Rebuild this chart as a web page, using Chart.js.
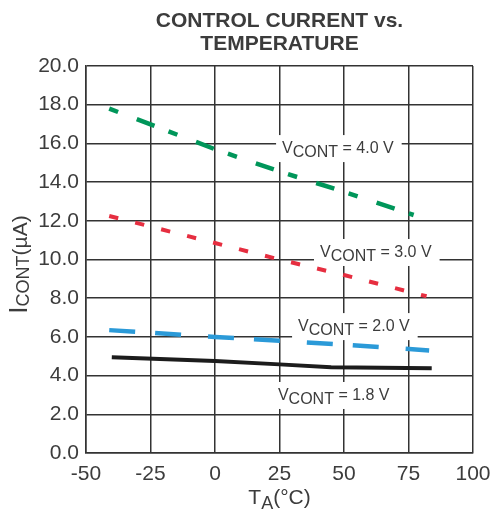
<!DOCTYPE html>
<html>
<head>
<meta charset="utf-8">
<script src="https://cdn.jsdelivr.net/npm/chart.js@4.4.0/dist/chart.umd.min.js"></script>
<style>
  body { margin: 0; background: #fff; }
  #chart { display: block; }
</style>
</head>
<body>
<canvas id="chart" width="493" height="511"></canvas>
<script>
// Temperature points (°C) and control current (µA) per control voltage
const temps40 = [-41, 0, 25, 50, 77];
const icont40 = [17.8, 15.7, 14.55, 13.5, 12.3];
const temps30 = [-41, 0, 25, 50, 82];
const icont30 = [12.25, 10.85, 10.0, 9.2, 8.1];
const temps20 = [-41, 0, 25, 50, 83];
const icont20 = [6.35, 6.0, 5.8, 5.6, 5.3];
const temps18 = [-40, 0, 25, 45, 84];
const icont18 = [4.95, 4.75, 4.58, 4.43, 4.38];

const seriesVolts = ["4.0", "3.0", "2.0", "1.8"];
// where each curve's label sits (left edge T, baseline I)
const labelT = [26, 40.7, 32.2, 24.4];
const labelI = [15.5, 10.13, 6.3, 2.74];

const xTicks = [-50, -25, 0, 25, 50, 75, 100];
const yMax = 20;
const yStep = 2;

const textColor = "#3c3c3c";
const gridColor = "#333333";
const FONT = "Arial, 'Liberation Sans', sans-serif";

function toPoints(xs, ys) {
  return xs.map((x, i) => ({ x: x, y: ys[i] }));
}

// Draws a run of text pieces: [text, size, dy]
function drawPieces(ctx, pieces, x, y) {
  let cx = x;
  pieces.forEach(([txt, size, dy, weight]) => {
    ctx.font = (weight || "normal") + " " + size + "px " + FONT;
    ctx.fillText(txt, cx, y + dy);
    cx += ctx.measureText(txt).width;
  });
  return cx - x;
}

function measurePieces(ctx, pieces) {
  let w = 0;
  pieces.forEach(([txt, size, dy, weight]) => {
    ctx.font = (weight || "normal") + " " + size + "px " + FONT;
    w += ctx.measureText(txt).width;
  });
  return w;
}

const labelsPlugin = {
  id: "curveLabels",
  beforeDatasetsDraw(chart) {
    const ctx = chart.ctx;
    const xs = chart.scales.x;
    const ys = chart.scales.y;
    ctx.save();
    ctx.textBaseline = "alphabetic";
    ctx.textAlign = "left";
    seriesVolts.forEach((v, i) => {
      const pieces = [["V", 16, 0], ["CONT", 16, 4], [" = " + v + " V", 16, 0]];
      const px = xs.getPixelForValue(labelT[i]);
      const py = ys.getPixelForValue(labelI[i]);
      const w = measurePieces(ctx, pieces);
      ctx.fillStyle = "#ffffff";
      ctx.fillRect(px - 6, py - 18, w + 14, 27);
      ctx.fillStyle = textColor;
      drawPieces(ctx, pieces, px, py);
    });
    ctx.restore();
  },
  afterDraw(chart) {
    const ctx = chart.ctx;
    const area = chart.chartArea;
    const midX = (area.left + area.right) / 2;
    const midY = (area.top + area.bottom) / 2;
    ctx.save();
    ctx.fillStyle = textColor;
    ctx.textBaseline = "alphabetic";

    // title
    ctx.textAlign = "center";
    ctx.font = "bold 21px " + FONT;
    ctx.fillText("CONTROL CURRENT vs.", midX, 27);
    ctx.fillText("TEMPERATURE", midX, 50);

    // x axis title
    ctx.textAlign = "left";
    const xt = [["T", 21, 0], ["A", 18, 5], ["(°C)", 21, 0]];
    drawPieces(ctx, xt, midX - measurePieces(ctx, xt) / 2, 504);

    // y axis title (rotated)
    const yt = [["I", 26, 0], ["CONT", 18, 2], ["(µA)", 21, 0]];
    ctx.translate(27, midY + 5);
    ctx.rotate(-Math.PI / 2);
    drawPieces(ctx, yt, -measurePieces(ctx, yt) / 2, 0);
    ctx.restore();
  }
};

new Chart(document.getElementById("chart"), {
  type: "line",
  data: {
    datasets: [
      {
        label: "VCONT = 4.0 V",
        data: toPoints(temps40, icont40),
        borderColor: "#00965a",
        borderWidth: 4.5,
        borderDash: [9.5, 20, 19, 15],
      },
      {
        label: "VCONT = 3.0 V",
        data: toPoints(temps30, icont30),
        borderColor: "#e62e40",
        borderWidth: 4,
        borderDash: [9.3, 17.5],
      },
      {
        label: "VCONT = 2.0 V",
        data: toPoints(temps20, icont20),
        borderColor: "#2b9ad8",
        borderWidth: 4.5,
        borderDash: [26, 20, 26, 27],
      },
      {
        label: "VCONT = 1.8 V",
        data: toPoints(temps18, icont18),
        borderColor: "#1c1c1c",
        borderWidth: 4,
      },
    ],
  },
  options: {
    responsive: false,
    animation: false,
    devicePixelRatio: 1,
    layout: { padding: { top: 66, right: 20, left: 0, bottom: 0 } },
    elements: {
      point: { radius: 0 },
      line: { tension: 0, borderCapStyle: "butt", fill: false },
    },
    plugins: {
      legend: { display: false },
      title: { display: false },
      tooltip: { enabled: false },
    },
    scales: {
      x: {
        type: "linear",
        min: xTicks[0],
        max: xTicks[xTicks.length - 1],
        afterFit: (scale) => {
          scale.height = 58;
          scale.paddingLeft = 0;
          scale.paddingRight = 0;
        },
        afterBuildTicks: (scale) => {
          scale.ticks = xTicks.map((v) => ({ value: v }));
        },
        ticks: {
          color: textColor,
          font: { family: FONT, size: 21 },
          padding: 9,
          maxRotation: 0,
        },
        grid: { color: gridColor, lineWidth: 1.5, drawTicks: false },
        border: { color: gridColor, width: 1.5 },
      },
      y: {
        min: 0,
        max: yMax,
        afterFit: (scale) => {
          scale.width = 86;
          scale.paddingTop = 0;
          scale.paddingBottom = 0;
        },
        ticks: {
          stepSize: yStep,
          color: textColor,
          font: { family: FONT, size: 21 },
          padding: 7,
          callback: (value) => value.toFixed(1),
        },
        grid: { color: gridColor, lineWidth: 1.5, drawTicks: false },
        border: { color: gridColor, width: 1.5 },
      },
    },
  },
  plugins: [labelsPlugin],
});
</script>
</body>
</html>
